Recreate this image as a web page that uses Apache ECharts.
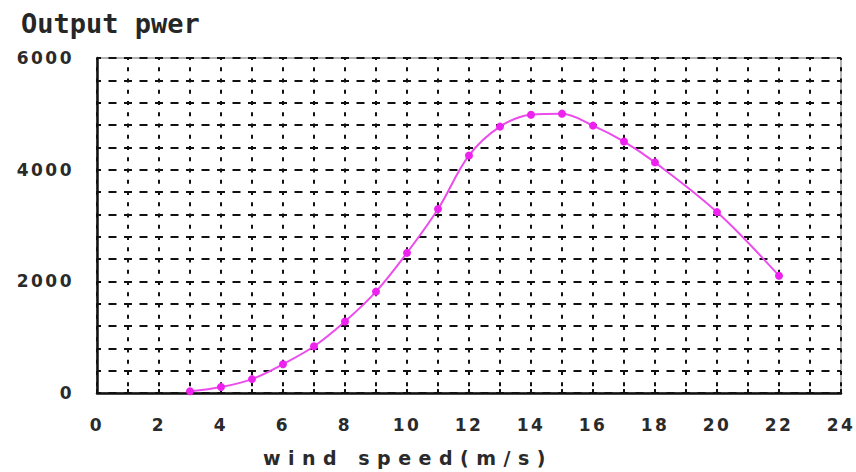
<!DOCTYPE html>
<html>
<head>
<meta charset="utf-8">
<script src="https://cdn.jsdelivr.net/npm/echarts@6/dist/echarts.min.js"></script>
<style>
html,body{margin:0;padding:0;background:#fff;}
#c{width:856px;height:472px;}
</style>
</head>
<body>
<div id="c"></div>
<script>
const titleText = 'Output pwer';
const xAxisName = 'wind speed(m/s)';
const windSpeed = [3, 4, 5, 6, 7, 8, 9, 10, 11, 12, 13, 14, 15, 16, 17, 18, 20, 22];
const outputPower = [30, 107, 249, 516, 837, 1282, 1816, 2510, 3294, 4255, 4771, 4985, 5003, 4789, 4504, 4130, 3240, 2101];
const xTickLabels = [0, 2, 4, 6, 8, 10, 12, 14, 16, 18, 20, 22, 24];
const yTickLabels = [0, 2000, 4000, 6000];

const chart = echarts.init(document.getElementById('c'), null, {renderer: 'svg'});
const txt = '#2a2a2a';
chart.setOption({
  animation: false,
  backgroundColor: '#fff',
  title: {
    text: titleText, left: 21, top: 10, padding: 0,
    textStyle: {fontFamily: 'DejaVu Sans Mono', fontWeight: 'bold', fontSize: 27, color: '#262626'}
  },
  grid: {left: 97, right: 15, top: 58, bottom: 77, show: true, borderColor: '#9a9a9a', borderWidth: 1.5},
  xAxis: {
    type: 'value', min: 0, max: 24, interval: 1,
    name: xAxisName, nameLocation: 'middle', nameGap: 55,
    nameTextStyle: {fontFamily: 'DejaVu Sans', fontWeight: 'bold', fontSize: 19, color: txt, padding: [0, 122, 0, 0]},
    axisLine: {show: true, lineStyle: {color: '#111', width: 2.5}},
    axisTick: {show: true, inside: true, length: 4, lineStyle: {color: '#111', width: 2}},
    axisLabel: {
      margin: 23, fontFamily: 'DejaVu Sans', fontWeight: 'bold', fontSize: 17, color: txt,
      formatter: v => xTickLabels.includes(v) ? String(v) : ''
    },
    splitLine: {show: true, lineStyle: {color: '#111', width: 2, type: [4, 7.25], dashOffset: 2}}
  },
  yAxis: {
    type: 'value', min: 0, max: 6000, interval: 400,
    axisLine: {show: true, lineStyle: {color: '#111', width: 2.5}},
    axisTick: {show: true, inside: true, length: 4, lineStyle: {color: '#111', width: 2}},
    axisLabel: {
      margin: 23, fontFamily: 'DejaVu Sans', fontWeight: 'bold', fontSize: 17, color: txt,
      formatter: v => yTickLabels.includes(v) ? String(v) : ''
    },
    splitLine: {show: true, lineStyle: {color: '#111', width: 2, type: [8, 7.5], dashOffset: 4}}
  },
  series: [{
    type: 'line',
    data: windSpeed.map((x, i) => [x, outputPower[i]]),
    smooth: 0.35,
    symbol: 'circle', symbolSize: 8,
    lineStyle: {color: '#ec4cec', width: 2},
    itemStyle: {color: '#ee22ee'}
  }]
});

function applySpacing() {
  const texts = chart.getDom().querySelectorAll('text');
  texts.forEach(t => {
    const s = t.textContent;
    if (s === xAxisName) t.setAttribute('letter-spacing', '7.5');
    else if (/^\d+$/.test(s)) t.setAttribute('letter-spacing', '2.5');
  });
}
applySpacing();
chart.on('finished', applySpacing);
</script>
</body>
</html>
